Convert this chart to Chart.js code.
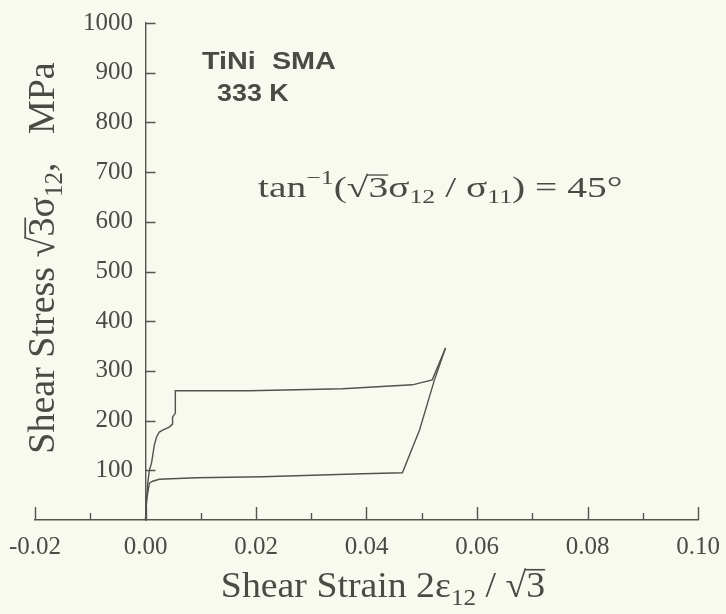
<!DOCTYPE html>
<html>
<head>
<meta charset="utf-8">
<script src="https://cdn.jsdelivr.net/npm/chart.js@4.4.1/dist/chart.umd.min.js"></script>
<style>
  html, body { margin: 0; padding: 0; background: #f8faef; }
  #wrap { width: 726px; height: 614px; }
</style>
</head>
<body>
<div id="wrap"><canvas id="chart"></canvas></div>
<script>
// loading branch (shear strain, shear stress MPa)
const loadStrain = [0, 0.0002, 0.0004, 0.0007, 0.0011, 0.0016, 0.0020, 0.0025, 0.0031, 0.0043, 0.0049, 0.0049, 0.0054, 0.0054, 0.0188, 0.0357, 0.0483, 0.0519, 0.0543];
const loadStress = [0, 40, 74, 100, 115, 151, 167, 177, 181, 187, 193, 207, 215, 260, 260, 264, 272, 282, 346];
// unloading branch
const unloadStrain = [0.0543, 0.0523, 0.0496, 0.0465, 0.0393, 0.0212, 0.0092, 0.0025, 0.0013, 0.0007, 0.0002, 0];
const unloadStress = [346, 282, 181, 95, 93, 87, 85, 82, 78, 74, 40, 0];

const xTicks = [-0.02, 0.00, 0.02, 0.04, 0.06, 0.08, 0.10];
const yTicks = [100, 200, 300, 400, 500, 600, 700, 800, 900, 1000];

const ink = '#4b4b46';
const axisInk = '#55554f';
const serif = '"Liberation Serif", "Times New Roman", serif';
const sans = '"Liberation Sans", Arial, sans-serif';

function toPoints(xs, ys) {
    return xs.map((x, i) => ({ x: x, y: ys[i] }));
}

// draw a run of text pieces (for sub/superscripts), returns width
function runs(ctx, parts, x, y, sx, measureOnly) {
    let cx = 0;
    ctx.save();
    ctx.translate(x, y);
    ctx.scale(sx, 1);
    for (const p of parts) {
        ctx.font = (p.w || '') + ' ' + p.s + 'px ' + (p.f || serif);
        const w = ctx.measureText(p.t).width;
        if (!measureOnly) {
            ctx.fillText(p.t, cx, p.dy || 0);
            if (p.over) {
                ctx.fillRect(cx - 1, (p.dy || 0) - p.s * 0.78, w + 1, Math.max(1.2, p.s * 0.045));
            }
        }
        cx += w;
    }
    ctx.restore();
    return cx * sx;
}

const annotations = {
    id: 'annotations',
    beforeDraw(chart) {
        const ctx = chart.ctx;
        ctx.save();
        ctx.fillStyle = '#f8faef';
        ctx.fillRect(0, 0, chart.width, chart.height);
        ctx.restore();
    },
    afterDraw(chart) {
        const ctx = chart.ctx;
        const xs = chart.scales.x, ys = chart.scales.y;
        const x0 = xs.getPixelForValue(0);
        const bottom = ys.getPixelForValue(0);

        ctx.save();
        ctx.strokeStyle = axisInk;
        ctx.lineWidth = 1.4;
        ctx.beginPath();
        // y ticks, pointing inward
        yTicks.forEach(v => {
            const py = Math.round(ys.getPixelForValue(v)) + 0.5;
            ctx.moveTo(x0, py);
            ctx.lineTo(x0 + 10, py);
        });
        // x major and minor ticks, pointing up
        xTicks.forEach((v, i) => {
            const px = Math.round(xs.getPixelForValue(v)) + 0.5;
            ctx.moveTo(px, bottom);
            ctx.lineTo(px, bottom - 13);
            if (i < xTicks.length - 1) {
                const pm = Math.round(xs.getPixelForValue((v + xTicks[i + 1]) / 2)) + 0.5;
                ctx.moveTo(pm, bottom);
                ctx.lineTo(pm, bottom - 7);
            }
        });
        ctx.stroke();

        ctx.fillStyle = ink;
        ctx.textBaseline = 'alphabetic';
        ctx.textAlign = 'left';

        // x axis title
        const xt = [
            { t: 'Shear Strain 2\u03b5', s: 36 },
            { t: '12', s: 24, dy: 8 },
            { t: ' / ', s: 36 },
            { t: '\u221a', s: 36 },
            { t: '3', s: 36, over: true }
        ];
        const xw = runs(ctx, xt, 0, 0, 1.05, true);
        runs(ctx, xt, 383 - xw / 2, 597, 1.05);

        // y axis title, rotated
        const yt = [
            { t: 'Shear Stress ', s: 38 },
            { t: '\u221a', s: 38 },
            { t: '3', s: 38, over: true },
            { t: '\u03c3', s: 38 },
            { t: '12', s: 25, dy: 8 },
            { t: ',   MPa', s: 38 }
        ];
        const yw = runs(ctx, yt, 0, 0, 1, true);
        ctx.save();
        ctx.translate(54, 258);
        ctx.rotate(-Math.PI / 2);
        runs(ctx, yt, -yw / 2, 0, 1);
        ctx.restore();

        // material label
        runs(ctx, [{ t: 'TiNi  SMA', s: 24, w: 'bold', f: sans }], 202, 69, 1.2);
        runs(ctx, [{ t: '333 K', s: 24, w: 'bold', f: sans }], 217, 101, 1.12);

        // loading direction
        runs(ctx, [
            { t: 'tan', s: 29 },
            { t: '\u22121', s: 19, dy: -13 },
            { t: '(', s: 29 },
            { t: '\u221a', s: 29 },
            { t: '3', s: 29, over: true },
            { t: '\u03c3', s: 29 },
            { t: '12', s: 19, dy: 6 },
            { t: ' / ', s: 29 },
            { t: '\u03c3', s: 29 },
            { t: '11', s: 19, dy: 6 },
            { t: ') = 45\u00b0', s: 29 }
        ], 258, 197, 1.36);
        ctx.restore();
    }
};

const ctx = document.getElementById('chart').getContext('2d');
new Chart(ctx, {
    type: 'scatter',
    data: {
        datasets: [{
            label: 'loading',
            data: toPoints(loadStrain, loadStress),
            showLine: true,
            borderColor: '#52524d',
            borderWidth: 1.4,
            pointRadius: 0,
            tension: 0
        }, {
            label: 'unloading',
            data: toPoints(unloadStrain, unloadStress),
            showLine: true,
            borderColor: '#52524d',
            borderWidth: 1.4,
            pointRadius: 0,
            tension: 0
        }]
    },
    options: {
        responsive: true,
        maintainAspectRatio: false,
        animation: false,
        layout: { padding: { left: 35, right: 28, top: 23, bottom: 0 } },
        plugins: {
            legend: { display: false },
            tooltip: { enabled: false }
        },
        scales: {
            x: {
                type: 'linear',
                position: 'bottom',
                min: xTicks[0],
                max: xTicks[xTicks.length - 1],
                afterBuildTicks: s => { s.ticks = xTicks.map(v => ({ value: v })); },
                afterFit: s => { s.height = 94; },
                grid: { drawOnChartArea: false, drawTicks: false },
                border: { color: axisInk, width: 1.4 },
                ticks: {
                    color: ink,
                    padding: 3,
                    maxRotation: 0,
                    font: { family: serif, size: 25, lineHeight: 1.95 },
                    callback: v => Number(v).toFixed(2)
                }
            },
            y: {
                type: 'linear',
                position: { x: 0 },
                min: 0,
                max: 1000,
                afterBuildTicks: s => { s.ticks = [0].concat(yTicks).map(v => ({ value: v })); },
                grid: { drawOnChartArea: false, drawTicks: false },
                border: { color: axisInk, width: 1.4 },
                ticks: {
                    color: ink,
                    padding: 2,
                    font: { family: serif, size: 25 },
                    callback: v => v === 0 ? '' : String(v) + '\u2002'
                }
            }
        }
    },
    plugins: [annotations]
});
</script>
</body>
</html>
